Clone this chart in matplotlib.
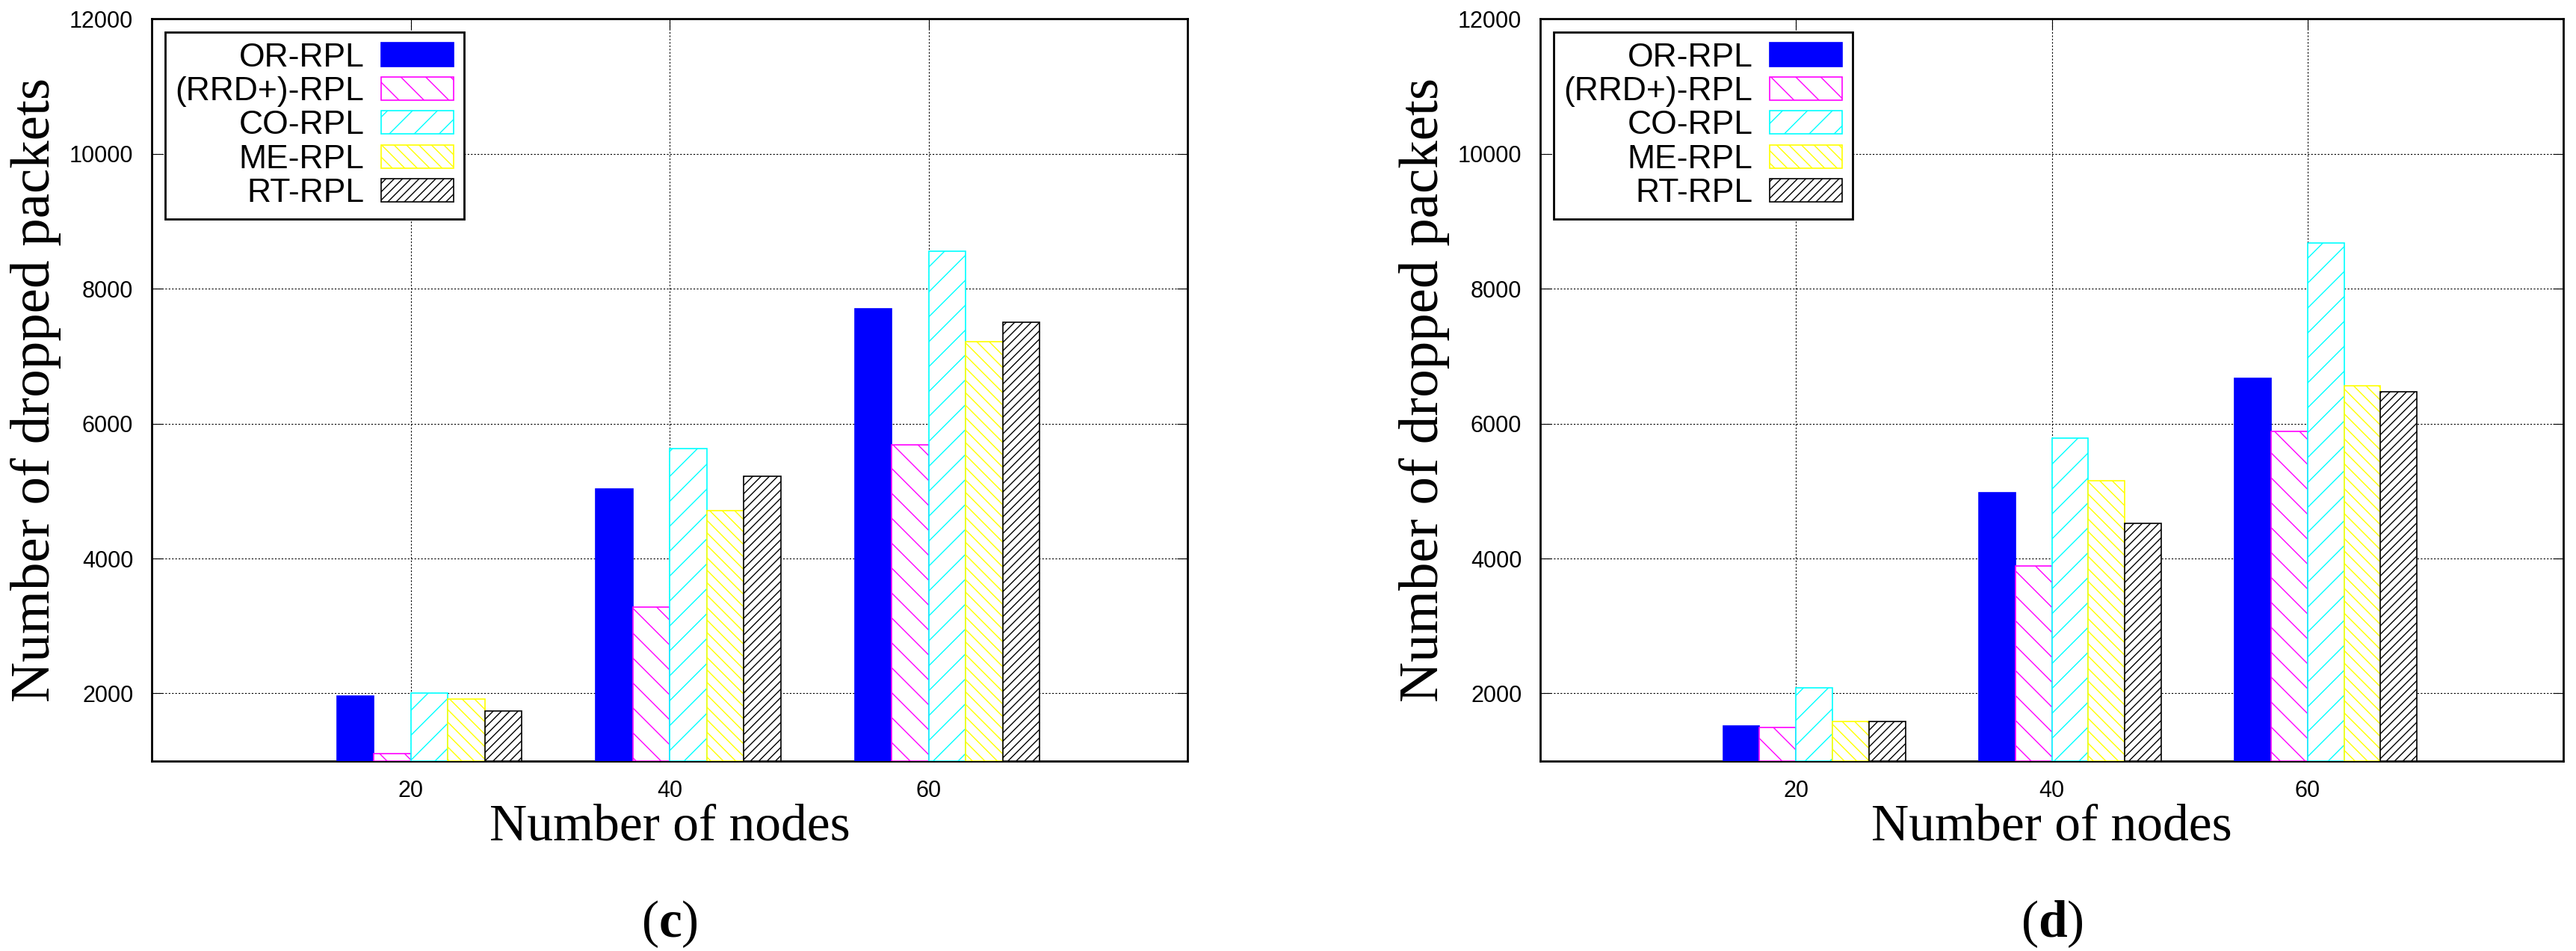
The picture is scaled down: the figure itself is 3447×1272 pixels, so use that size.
import matplotlib
matplotlib.use("Agg")
import matplotlib.pyplot as plt
import numpy as np

# data
nodes = [20, 40, 60]
series = ["OR-RPL", "(RRD+)-RPL", "CO-RPL", "ME-RPL", "RT-RPL"]
panel_c = {
    "OR-RPL": [1960, 5030, 7700],
    "(RRD+)-RPL": [1110, 3280, 5690],
    "CO-RPL": [2000, 5630, 8560],
    "ME-RPL": [1920, 4705, 7220],
    "RT-RPL": [1740, 5220, 7500],
}
panel_d = {
    "OR-RPL": [1520, 4980, 6670],
    "(RRD+)-RPL": [1500, 3890, 5890],
    "CO-RPL": [2080, 5790, 8680],
    "ME-RPL": [1580, 5150, 6560],
    "RT-RPL": [1580, 4520, 6470],
}
yticks = [2000, 4000, 6000, 8000, 10000, 12000]

STYLE = {
    "OR-RPL": dict(color="#0000ff", hatch=None, fill=True),
    "(RRD+)-RPL": dict(color="#ff00ff", hatch="\\", fill=False),
    "CO-RPL": dict(color="#00ffff", hatch="/", fill=False),
    "ME-RPL": dict(color="#ffff00", hatch="\\\\", fill=False),
    "RT-RPL": dict(color="#000000", hatch="///", fill=False),
}

plt.rcParams["hatch.linewidth"] = 1.0
plt.rcParams["mathtext.fontset"] = "custom"
plt.rcParams["mathtext.rm"] = "Liberation Serif"
plt.rcParams["mathtext.bf"] = "Liberation Serif:bold"
TICK_FONT = "Liberation Sans"
SERIF = "Liberation Serif"

fig = plt.figure(figsize=(34.47, 12.72), dpi=100)
axes = [fig.add_axes([0.059, 0.2, 0.402, 0.78]),
        fig.add_axes([0.598, 0.2, 0.397, 0.78])]

width = 2.86
for ax, data, tag in zip(axes, [panel_c, panel_d], ["c", "d"]):
    x = np.array(nodes, dtype=float)
    for i, name in enumerate(series):
        st = STYLE[name]
        ax.bar(x + (i - 1.5) * width, np.array(data[name]) - 1000, width,
               bottom=1000, label=name,
               facecolor=st["color"] if st["fill"] else "white",
               edgecolor=st["color"], hatch=st["hatch"], linewidth=1.2,
               zorder=3)
    ax.set_xlim(0, 80)
    ax.set_ylim(1000, 12000)
    ax.set_xticks(nodes)
    ax.set_yticks(yticks)
    ax.grid(True, linestyle=(0, (2, 2)), color="black", linewidth=0.8, zorder=0)
    ax.tick_params(direction="in", top=True, right=True, length=10,
                   labelsize=22, pad=18)
    for lab in ax.get_xticklabels() + ax.get_yticklabels():
        lab.set_family(TICK_FONT)
    for sp in ax.spines.values():
        sp.set_linewidth(2)
    ax.set_xlabel("Number of nodes", family=SERIF, fontsize=50, labelpad=2)
    ax.set_ylabel("Number of dropped packets", family=SERIF, fontsize=54,
                  labelpad=8)
    leg = ax.legend(loc="upper left", markerfirst=False,
                    prop={"family": TICK_FONT, "size": 32},
                    handlelength=2.2, handleheight=0.7, labelspacing=0.1,
                    borderaxespad=0.4, fancybox=False, framealpha=1,
                    edgecolor="black", borderpad=0.3, handletextpad=0.5)
    leg.get_frame().set_linewidth(2)
    ax.text(0.5, -0.22, r"($\mathbf{%s}$)" % tag, transform=ax.transAxes,
            ha="center", va="center", family=SERIF, fontsize=50)

fig.savefig("out.png", dpi=100, facecolor="white")
